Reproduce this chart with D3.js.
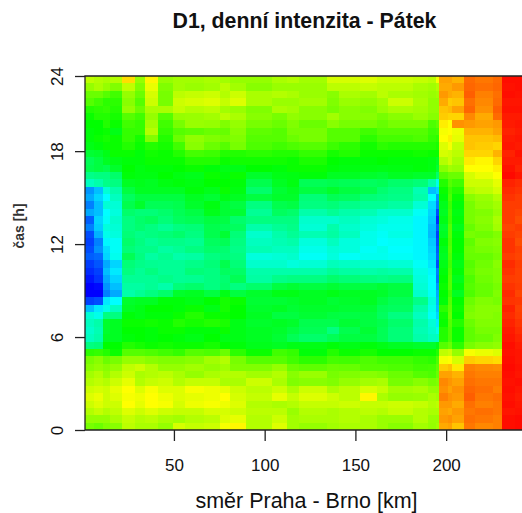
<!DOCTYPE html>
<html>
<head>
<meta charset="utf-8">
<style>
  html, body { margin: 0; padding: 0; background: #fff; overflow: hidden; }
  text { font-family: "Liberation Sans", Arial, sans-serif; fill: #111; }
</style>
<script src="https://cdn.jsdelivr.net/npm/d3@7"></script>
</head>
<body>
<script>
// hranice useku [km]
const kmBreaks = [1,5.9,10.9,14.7,21.3,28.5,34,41.2,49.4,56.1,66.5,75.3,80.9,89.7,104,112.3,118.9,134.3,140.9,152.5,161.8,167.9,181.7,190,194.4,196,201,203.2,209.8,215.8,225.8,230.7,237.9,241.8];
const xTicks = [50, 100, 150, 200];
// osa y v originale neni linearni nahore: "24" sedi na horni hrane
const topHour = 22.85;
const yTicks = [0, 6, 12, 18, 22.85];
const yTickLabels = ["0", "6", "12", "18", "24"];

// hodnoty, radky shora dolu, sloupce podle kmBreaks
// 0 = cervena, 240 = modra (jako rainbow v R)
const zRows = [
[75,78,80,78,52,85,58,85,82,82,80,82,85,85,80,78,82,70,70,68,72,72,74,76,62,38,38,42,25,28,25,3,3],
[85,80,85,90,75,90,65,90,82,84,82,76,82,88,84,84,84,76,76,74,76,76,80,82,78,40,40,36,24,26,24,4,3],
[95,95,100,105,85,95,70,92,76,74,72,78,72,80,78,80,84,88,80,82,76,80,82,84,82,36,40,42,22,30,26,3,4],
[100,105,110,110,88,100,72,92,72,70,68,74,68,80,84,84,82,90,84,86,82,72,80,86,86,40,48,46,26,32,25,5,5],
[112,110,108,112,85,95,80,80,74,78,76,82,84,90,80,82,88,92,88,90,84,80,82,86,86,46,44,38,24,34,22,4,4],
[118,112,112,115,100,105,85,100,85,84,82,76,80,88,92,86,88,82,88,88,92,88,84,88,88,48,50,50,32,40,25,6,6],
[120,120,112,118,105,108,82,105,92,84,85,90,85,92,95,90,95,88,92,92,96,92,92,102,98,56,60,34,36,38,36,6,5],
[122,120,118,125,108,108,78,108,100,98,95,96,88,98,100,92,92,100,100,105,100,100,100,106,104,62,60,64,42,42,38,8,6],
[122,118,115,118,108,115,90,112,95,86,90,92,90,100,100,95,92,100,100,110,104,104,102,108,110,60,56,66,46,46,44,6,5],
[125,122,118,118,112,118,112,115,105,88,95,100,92,102,105,102,100,106,110,116,110,112,112,112,114,68,62,74,46,48,50,5,6],
[132,130,125,118,118,122,116,118,112,104,106,112,112,110,112,112,108,115,112,118,118,118,116,118,118,70,72,76,50,50,42,8,4],
[140,135,128,125,122,122,118,118,118,112,112,118,116,116,116,118,114,120,122,122,120,122,122,124,128,78,72,80,55,58,50,6,6],
[138,135,138,130,120,124,122,122,120,118,122,125,125,120,122,118,118,122,124,124,125,124,122,124,132,88,82,84,60,60,56,4,8],
[152,150,150,145,122,124,124,120,124,126,118,122,118,130,125,124,122,128,128,130,132,128,130,130,145,100,95,95,70,65,60,2,5],
[165,160,152,150,128,126,128,124,122,124,120,120,122,138,128,124,140,138,140,142,140,145,148,160,175,112,100,105,72,72,66,8,10],
[205,195,170,160,135,128,128,128,128,122,126,118,124,145,132,128,135,130,135,138,146,150,162,195,190,118,105,112,78,75,70,10,12],
[200,190,180,165,142,135,135,135,135,128,132,125,128,135,130,130,148,140,142,148,150,152,160,180,205,122,102,118,88,84,78,12,14],
[210,195,170,170,138,130,140,140,138,130,124,132,135,150,138,136,150,148,152,155,155,158,170,188,210,126,106,122,92,86,82,14,14],
[200,195,180,172,145,148,148,145,140,136,126,132,132,155,142,145,160,155,160,162,168,168,178,190,222,128,104,124,92,90,84,14,16],
[218,190,178,168,150,145,142,148,142,140,135,136,145,150,150,150,168,168,165,170,172,175,182,192,230,125,105,122,92,88,80,14,18],
[210,192,172,170,150,146,150,155,150,148,138,140,142,160,155,152,170,160,168,172,176,176,182,195,218,130,100,126,96,90,82,16,14],
[222,198,175,172,148,152,150,148,145,150,138,132,148,168,160,155,162,158,165,175,178,174,182,196,225,128,100,122,92,94,90,14,16],
[225,210,182,178,145,150,155,152,152,154,142,140,150,165,162,160,172,165,172,175,180,178,182,192,222,122,102,120,98,90,88,12,18],
[222,206,188,178,148,152,152,158,155,150,145,146,152,162,165,165,175,170,172,178,175,180,182,190,218,126,100,120,95,92,90,12,15],
[218,215,190,176,140,150,158,154,160,158,150,148,150,172,170,168,178,172,178,176,176,178,182,188,215,128,102,122,96,96,92,14,16],
[226,220,200,190,148,152,154,155,155,152,148,138,148,168,168,172,170,164,166,168,168,170,178,186,222,125,105,125,100,94,88,10,14],
[230,225,195,185,150,155,150,155,155,148,150,142,144,160,160,160,160,155,158,160,158,160,174,182,210,122,102,122,98,92,90,12,15],
[235,228,200,190,155,155,155,152,155,154,150,146,140,158,152,150,150,145,148,150,152,150,172,180,212,120,100,126,102,94,90,14,15],
[240,238,205,195,158,158,155,160,148,145,150,145,150,145,135,132,135,132,135,135,132,135,170,180,205,118,100,122,100,96,92,12,14],
[240,240,210,200,160,155,150,145,130,128,135,125,135,130,125,125,128,125,128,128,130,135,168,178,200,120,105,128,102,96,90,10,16],
[225,222,185,180,130,128,128,122,122,125,120,115,118,132,132,130,128,132,130,128,135,140,152,172,198,122,100,120,95,90,92,12,13],
[195,185,175,165,128,125,120,120,122,118,125,115,120,130,128,132,130,130,132,132,140,142,160,175,195,110,98,118,92,88,88,8,15],
[170,175,150,150,122,125,122,122,118,112,118,118,120,128,135,135,132,135,136,135,142,150,165,178,190,116,96,120,90,88,90,10,14],
[165,160,130,128,118,118,116,118,112,115,112,114,125,130,128,130,138,138,132,135,138,145,160,170,185,118,100,112,95,90,90,8,12],
[168,162,130,128,120,120,122,118,118,122,122,118,125,128,130,135,140,150,138,132,140,148,162,168,175,112,102,118,98,92,92,6,10],
[165,160,128,128,122,120,122,120,122,125,120,125,125,128,132,140,145,140,135,135,140,148,160,165,165,112,102,118,98,95,90,5,8],
[150,148,120,120,112,115,118,116,118,118,115,120,122,126,128,125,125,122,125,122,125,128,130,130,125,100,95,110,92,88,86,3,6],
[110,108,112,118,100,100,102,105,108,100,102,95,110,118,105,108,122,112,118,115,120,120,118,118,112,75,72,85,62,65,68,4,5],
[92,88,95,92,85,85,88,90,90,88,82,78,92,100,100,105,110,104,105,102,105,105,108,110,102,62,60,70,48,50,52,3,5],
[88,85,88,85,75,72,78,85,85,82,85,82,90,90,85,95,98,95,96,100,100,102,105,104,98,48,45,55,30,32,33,2,4],
[82,78,85,78,72,80,78,76,80,85,80,78,78,82,78,88,84,92,90,88,90,95,100,102,95,38,38,42,28,30,30,3,5],
[78,75,78,72,66,78,74,72,78,74,74,80,80,72,80,90,88,90,85,82,80,92,88,92,90,32,35,38,26,28,28,4,3],
[72,70,72,66,60,68,62,68,68,62,64,66,72,76,72,80,72,80,76,70,74,82,80,85,85,34,38,34,24,26,30,3,5],
[68,65,72,68,62,64,60,64,68,66,64,60,70,74,66,74,68,72,76,58,80,85,84,80,82,30,34,36,22,28,26,4,6],
[72,68,72,72,60,66,60,62,70,64,62,64,68,78,80,78,74,74,72,74,74,72,74,78,76,36,36,40,26,30,28,3,5],
[78,74,78,75,68,72,68,72,74,74,70,70,72,76,76,84,78,80,78,76,78,74,78,80,80,38,40,36,28,26,28,5,4],
[85,85,85,80,74,78,76,80,82,78,76,68,66,78,72,82,80,80,78,80,84,84,78,84,84,36,34,38,26,28,30,3,2],
[92,95,90,88,76,80,80,85,70,74,72,62,58,78,68,82,85,82,80,80,84,88,82,85,82,40,38,46,28,32,30,3,2]
];

const w = 522, h = 513;
const x0 = 85, x1 = 522, yBottom = 430, yTop = 76;

const svg = d3.select("body").append("svg")
    .attr("width", w)
    .attr("height", h)
    .style("display", "block");

const x = d3.scaleLinear().domain([kmBreaks[0], kmBreaks[kmBreaks.length - 1]]).range([x0, x1]);
const y = d3.scaleLinear().domain([0, topHour]).range([yBottom, yTop]);
const hue = d3.scaleLinear().domain([0, 240]).range([0, 240]);
const rowStep = topHour / zRows.length;

// 1. bunky heatmapy (original je lehce rozmazany)
svg.append("defs").append("clipPath").attr("id", "plot")
    .append("rect").attr("x", x0).attr("y", yTop).attr("width", x1 - x0).attr("height", yBottom - yTop);

const cells = zRows.flatMap((row, i) => row.map((z, j) => ({ i, j, z })));
svg.append("g").attr("clip-path", "url(#plot)")
    .append("g").style("filter", "blur(0.7px)")
    .selectAll("rect")
    .data(cells)
    .join("rect")
    .attr("x", d => x(kmBreaks[d.j]))
    .attr("width", d => x(kmBreaks[d.j + 1]) - x(kmBreaks[d.j]))
    .attr("y", d => y(topHour - d.i * rowStep))
    .attr("height", d => y(topHour - (d.i + 1) * rowStep) - y(topHour - d.i * rowStep))
    .attr("fill", d => d3.hsl(hue(d.z), 1, 0.5))
    .attr("shape-rendering", "crispEdges");

// 2. osy
const xAxis = d3.axisBottom(x).tickValues(xTicks).tickSize(11);
const gx = svg.append("g").attr("transform", `translate(0,${yBottom})`).call(xAxis);
gx.select(".domain").remove();
gx.selectAll("line").attr("stroke", "#222").attr("stroke-width", 1.3);
gx.selectAll("text").style("font-size", "17px").attr("fill", "#111").attr("dy", 0).attr("y", 41);

const yAxis = d3.axisLeft(y).tickValues(yTicks).tickFormat((d, i) => yTickLabels[i]).tickSize(10);
const gy = svg.append("g").attr("transform", `translate(${x0},0)`).call(yAxis);
gy.select(".domain").remove();
gy.selectAll("line").attr("stroke", "#222").attr("stroke-width", 1.3);
gy.selectAll("text")
    .style("font-size", "17px")
    .attr("fill", "#111")
    .attr("x", 0)
    .attr("y", 0)
    .attr("dy", 0)
    .attr("text-anchor", "middle")
    .attr("transform", "translate(-22,0) rotate(-90)");

// 3. ramecek
svg.append("path")
    .attr("d", `M${x1},${yTop}H${x0}V${yBottom}H${x1}`)
    .attr("fill", "none")
    .attr("stroke", "#222")
    .attr("stroke-width", 1.3);

// 4. popisky
svg.append("text").attr("x", 304.5).attr("y", 28).attr("text-anchor", "middle")
    .style("font-size", "21.3px").style("font-weight", "bold").text("D1, denní intenzita - Pátek");
svg.append("text").attr("x", 306.5).attr("y", 508).attr("text-anchor", "middle")
    .style("font-size", "21.5px").text("směr Praha - Brno [km]");
svg.append("text").attr("transform", "translate(24,226) rotate(-90)").attr("text-anchor", "middle")
    .style("font-size", "14px").style("font-weight", "bold").style("fill", "#333").text("čas [h]");
</script>
</body>
</html>
